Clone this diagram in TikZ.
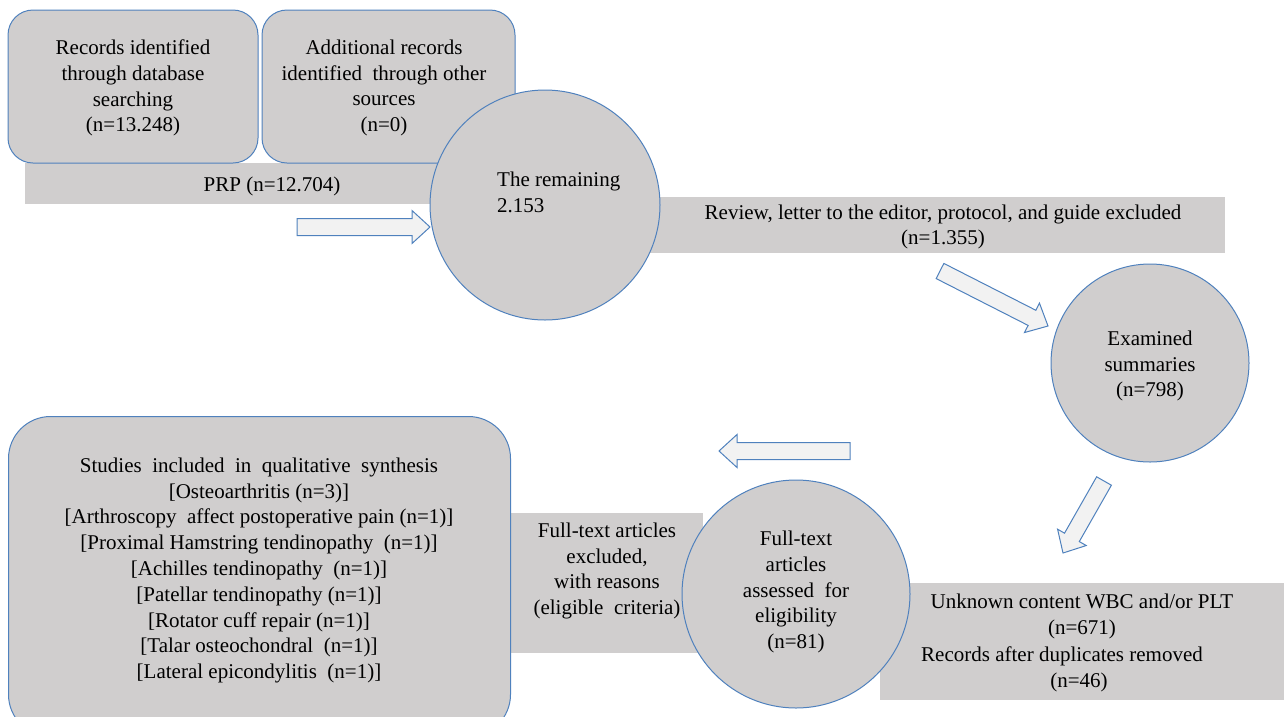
\documentclass[tikz,border=0pt]{standalone}
\usepackage{fontspec}
\setmainfont{Liberation Serif}
\usetikzlibrary{calc}
\definecolor{bfill}{RGB}{208,206,206}
\definecolor{bline}{RGB}{79,129,189}
\definecolor{afill}{RGB}{242,242,242}
\tikzset{
  txt/.style={align=center,font=\fontsize{21}{25.8}\selectfont,inner sep=0pt},
  rbox/.style={draw=bline,fill=bfill,line width=1pt,rectangle,inner sep=0pt},
  bar/.style={fill=bfill,draw=none},
  circ/.style={draw=bline,fill=bfill,line width=1pt,circle,inner sep=0pt},
  arrowsty/.style={draw=bline,fill=afill,line width=1pt,line join=miter}
}
\newcommand\barrow[2]{%
  \coordinate (#1h) at ($(#2)!18pt!(#1)$);
  \draw[arrowsty] ($(#1)!8.5pt!90:(#2)$) -- ($(#1h)!8.5pt!-90:(#1)$)
    -- ($(#1h)!16.5pt!-90:(#1)$) -- (#2) -- ($(#1h)!16.5pt!90:(#1)$)
    -- ($(#1h)!8.5pt!90:(#1)$) -- ($(#1)!8.5pt!-90:(#2)$) -- cycle;}
\begin{document}
\begin{tikzpicture}[x=1pt,y=-1pt]
\useasboundingbox (0,0) rectangle (1284,716);
\clip (0,0) rectangle (1284,716);
% bars
\node[bar,minimum width=425pt,minimum height=41pt,anchor=north west] (prpbar) at (25,163) {};
\node[bar,minimum width=625pt,minimum height=56pt,anchor=north west] (revbar) at (600,197) {};
\node[bar,minimum width=404pt,minimum height=117pt,anchor=north west] (unkbar) at (880,583) {};
\node[bar,minimum width=192pt,minimum height=140pt,anchor=north west] (excbar) at (511,513) {};
% top boxes
\node[rbox,rounded corners=25pt,minimum width=250pt,minimum height=153pt] (boxa) at (133,86.5) {};
\node[txt] (ta) at (133,88) {Records identified\\through database\\searching\\(n=13.248)};
\node[rbox,rounded corners=25pt,minimum width=253pt,minimum height=153pt] (boxb) at (388.5,86.5) {};
\node[txt] (tb) at (384,88) {Additional records\\identified~ through other\\sources\\(n=0)};
\node[txt] (tprp) at (272,186) {PRP (n=12.704)};
% circle 1
\node[circ,minimum size=230pt] (c1) at (545,205) {};
\node[txt,align=left,anchor=north west] (tc1) at (497,172) {The remaining\\2.153};
\node[txt] (trev) at (943,227) {Review, letter to the editor, protocol, and guide excluded\\(n=1.355)};
% circle 2
\node[circ,minimum size=198pt] (c2) at (1150,363) {};
\node[txt] (tc2) at (1150,366) {Examined\\summaries\\(n=798)};
% big box
\node[rbox,rounded corners=42pt,minimum width=502pt,minimum height=320pt,anchor=north west] (bigbox) at (8,416) {};
\node[txt] (tbig) at (259,570.5) {Studies~ included~ in~ qualitative~ synthesis\\{}[Osteoarthritis (n=3)]\\{}[Arthroscopy~ affect postoperative pain (n=1)]\\{}[Proximal Hamstring tendinopathy~ (n=1)]\\{}[Achilles tendinopathy~ (n=1)]\\{}[Patellar tendinopathy (n=1)]\\{}[Rotator cuff repair (n=1)]\\{}[Talar osteochondral~ (n=1)]\\{}[Lateral epicondylitis~ (n=1)]};
\node[txt] (texc) at (607,571) {Full-text articles\\excluded,\\with reasons\\(eligible~ criteria)};
% circle 3
\node[circ,minimum size=228pt] (c3) at (796,594) {};
\node[txt] (tc3) at (796,592) {Full-text\\articles\\assessed~ for\\eligibility\\(n=81)};
\node[txt] (tunk1) at (1082,616.5) {Unknown content WBC and/or PLT\\(n=671)};
\node[txt,anchor=base west] (tunk3) at (921,661) {Records after duplicates removed};
\node[txt,anchor=base] (tunk4) at (1079,687) {(n=46)};
% block arrows
\coordinate (a1t) at (297,227); \coordinate (a1p) at (430,227);
\coordinate (a2t) at (940,271); \coordinate (a2p) at (1048,326);
\coordinate (a3t) at (1104,481); \coordinate (a3p) at (1063,553);
\coordinate (a4t) at (850,451); \coordinate (a4p) at (719,451);
\barrow{a1t}{a1p}
\barrow{a2t}{a2p}
\barrow{a3t}{a3p}
\barrow{a4t}{a4p}
\end{tikzpicture}
\end{document}
